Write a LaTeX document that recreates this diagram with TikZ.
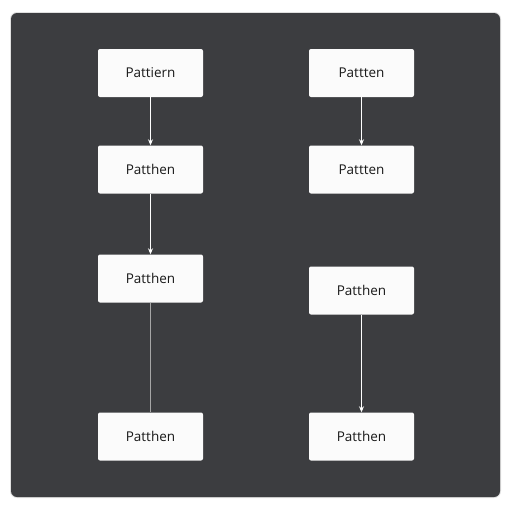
\documentclass[tikz,border=0pt]{standalone}
\usepackage{fontspec}
\setmainfont{Open Sans}
\usetikzlibrary{arrows.meta}
\definecolor{panel}{HTML}{3C3D40}
\definecolor{boxfill}{HTML}{FBFBFB}
\tikzset{
  x=1pt, y=-1pt,
  patbox/.style={draw=none, fill=boxfill, rounded corners=2pt, minimum width=105pt, minimum height=48pt, inner sep=0pt, font=\fontsize{13.5}{15}\selectfont, text=black!90},
  flow/.style={draw=white, line width=1.1pt, -{Stealth[length=6pt,width=5pt]}},
  plain/.style={draw=black!35, line width=0.6pt}
}
\begin{document}
\begin{tikzpicture}
\useasboundingbox (0,0) rectangle (512,512);
\fill[white] (0,0) rectangle (512,512);
\fill[black!12, rounded corners=7pt] (10,12) rectangle (501,498);
\fill[panel, rounded corners=6pt] (11,13) rectangle (500,497);
\node[patbox] (l1) at (150.5,73) {Pattiern};
\node[patbox] (l2) at (150.5,169.5) {Patthen};
\node[patbox] (l3) at (150.5,278.5) {Patthen};
\node[patbox] (l4) at (150.5,436.5) {Patthen};
\node[patbox] (r1) at (361.5,73) {Pattten};
\node[patbox] (r2) at (361.5,169.5) {Pattten};
\node[patbox] (r3) at (361.5,290.5) {Patthen};
\node[patbox] (r4) at (361.5,436.5) {Patthen};
\draw[flow] (l1) -- (l2);
\draw[flow] (l2) -- (l3);
\draw[plain] (l3) -- (l4);
\draw[flow] (r1) -- (r2);
\draw[flow] (r3) -- (r4);
\end{tikzpicture}
\end{document}
